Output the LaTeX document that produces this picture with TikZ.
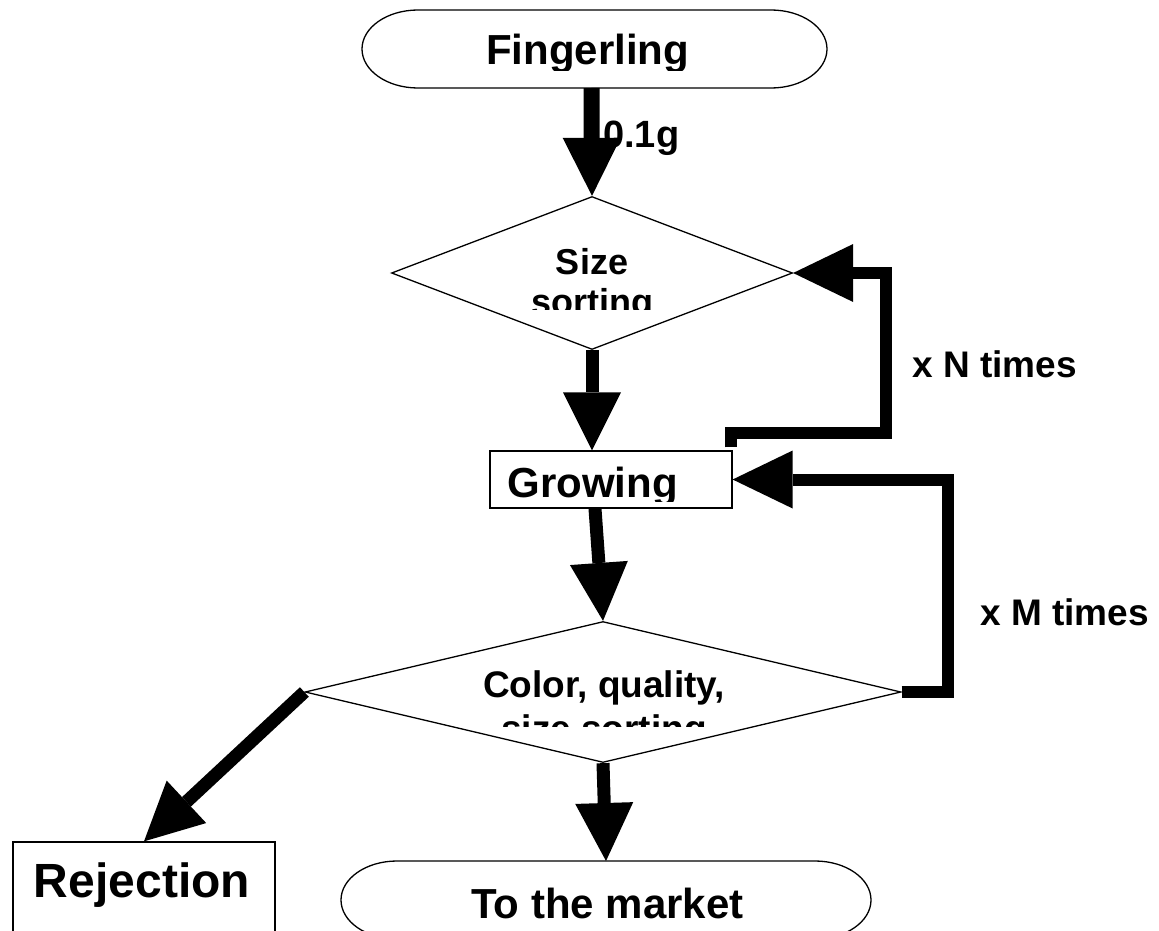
\documentclass[tikz,border=0pt]{standalone}
\usepackage{fontspec}
\setmainfont{Liberation Sans}
\usetikzlibrary{arrows.meta,shapes.geometric}

\begin{document}
\begin{tikzpicture}[x=1pt,y=-1pt,
  outline/.style={draw, line width=1.3pt},
  flow/.style={line width=13pt, -{Triangle[length=58pt,width=58pt,line width=0pt]}},
  loopline/.style={line width=12pt, line join=miter, -{Triangle[length=60pt,width=58pt,line width=0pt]}},
  term/.style={rectangle, draw=none, inner sep=0pt, outer sep=0pt},
  boxnode/.style={rectangle, draw, line width=1.3pt, inner sep=0pt},
  decision/.style={diamond, draw, line width=1.3pt, inner sep=0pt},
  t36/.style={inner sep=0pt, font=\fontsize{36}{42}\selectfont\bfseries},
  t37/.style={inner sep=0pt, font=\fontsize{37}{43}\selectfont\bfseries},
  t38/.style={inner sep=0pt, font=\fontsize{38}{44}\selectfont\bfseries},
  t42/.style={inner sep=0pt, font=\fontsize{42}{48}\selectfont\bfseries},
  t48/.style={inner sep=0pt, font=\fontsize{48}{56}\selectfont\bfseries},
]
\useasboundingbox (0,0) rectangle (1159,931);
\clip (0,0) rectangle (1159,931);

% start terminal
\node[term, minimum width=465pt, minimum height=78pt] (fing) at (594.5,49) {};
\draw[outline] ([xshift=56pt]fing.north west) -- ([xshift=-56pt]fing.north east)
  arc[start angle=90, end angle=-90, x radius=56pt, y radius=39pt]
  -- ([xshift=56pt]fing.south west)
  arc[start angle=270, end angle=90, x radius=56pt, y radius=39pt] -- cycle;
\begin{scope}
  \clip (400,0) rectangle (800,71);
  \node[t42, anchor=base] (fingtxt) at (587.5,65) {Fingerling};
\end{scope}

% first sorting step
\node[decision, minimum width=401pt, minimum height=153pt] (d1) at (592,273) {};
\node[t36, anchor=base] (sizetxt) at (592,274) {Size};
\begin{scope}
  \clip (450,280) rectangle (750,309);
  \node[t36, anchor=base] (sorttxt) at (592,314) {sorting};
\end{scope}

% growing stage
\node[boxnode, minimum width=242pt, minimum height=57pt] (grow) at (611,479.5) {};
\begin{scope}
  \clip (495,455) rectangle (725,501);
  \node[t42, anchor=base] (growtxt) at (592.5,497) {Growing};
\end{scope}

% final sorting step
\node[decision, minimum width=596pt, minimum height=141pt] (d2) at (603,692) {};
\node[t37, anchor=base] (cqtxt) at (604,697) {Color, quality,};
\begin{scope}
  \clip (450,705) rectangle (760,726);
  \node[t37, anchor=base] (sstxt) at (604,741) {size sorting};
\end{scope}

% outcomes
\node[boxnode, minimum width=262pt, minimum height=108pt] (rej) at (144,896) {};
\node[t48, anchor=base] (rejtxt) at (142,897) {Rejection};

\node[term, minimum width=530pt, minimum height=78pt] (mkt) at (606,900) {};
\draw[outline] ([xshift=56pt]mkt.north west) -- ([xshift=-56pt]mkt.north east)
  arc[start angle=90, end angle=-90, x radius=56pt, y radius=39pt]
  -- ([xshift=56pt]mkt.south west)
  arc[start angle=270, end angle=90, x radius=56pt, y radius=39pt] -- cycle;
\node[t42, anchor=base] (mkttxt) at (607.5,918) {To the market};

% main flow
\node[t38, anchor=base west] (wtxt) at (603,147) {0.1g};
\draw[flow, line width=16pt] ([xshift=-3pt]fing.south) -- (d1.north);
\draw[flow] (d1.south) -- (d1.south |- grow.north);
\draw[flow] ([xshift=-16pt]grow.south) -- (d2.north);
\draw[flow] (d2.west) -- (rej.north);
\draw[flow] (d2.south) -- (mkt.north);

% repeat loops
\coordinate (ncol) at (885.5,433);
\draw[loopline] ([xshift=-1.5pt,yshift=3pt]grow.north east) |- (ncol) |- (d1.east);
\node[t37, anchor=base west] (ntxt) at (912,377) {x N times};

\coordinate (mcol) at (948,0);
\draw[loopline] (d2.east) -| (mcol |- grow.east) -- (grow.east);
\node[t37, anchor=base west] (mtxt) at (980,625) {x M times};
\end{tikzpicture}
\end{document}
